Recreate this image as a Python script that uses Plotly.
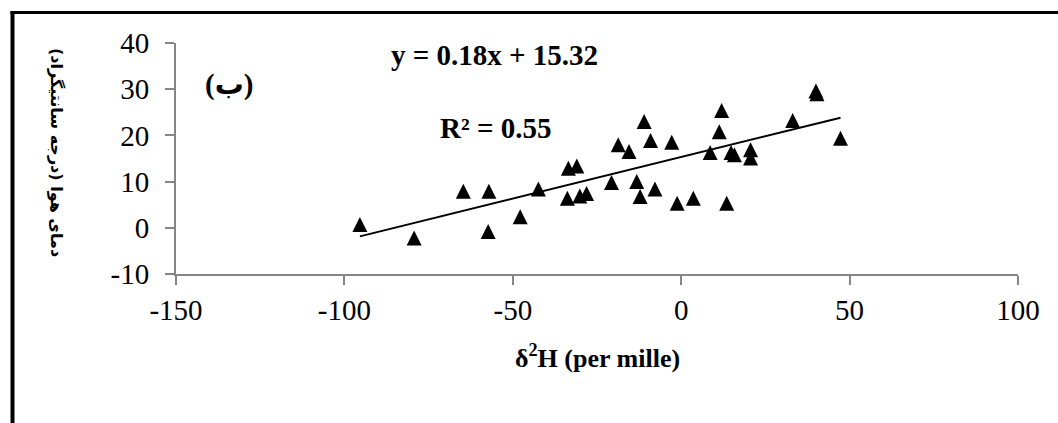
import plotly.graph_objects as go

# ---- data ----
d2h = [-95.4, -79.3, -64.7, -57.1, -57.3, -47.8, -42.4, -33.5, -31.0, -33.8,
       -30.1, -28.1, -20.7, -18.7, -15.5, -13.2, -12.2, -11.0, -9.1, -7.8,
       -2.8, -1.2, 3.6, 13.5, 8.6, 11.3, 12.0, 14.8, 15.8, 20.6,
       20.6, 33.1, 40.0, 40.3, 47.3]
temp = [0.7, -2.2, 7.9, 7.9, -0.8, 2.4, 8.4, 12.9, 13.4, 6.4,
        6.9, 7.4, 9.8, 18.0, 16.5, 10.0, 6.8, 23.0, 18.9, 8.4,
        18.5, 5.3, 6.4, 5.3, 16.3, 20.8, 25.4, 16.3, 15.8, 16.9,
        15.1, 23.2, 29.6, 29.0, 19.4]
fit_coef = [0.18, 15.32]          # slope, intercept (as printed on the chart)
x_ticks = [-150, -100, -50, 0, 50, 100]
x_tick_labels = ["-150", "-100", "-50", "0", "50", "100"]
y_ticks = [-10, 0, 10, 20, 30, 40]
y_tick_labels = ["-10", "0", "10", "20", "30", "40"]

eq_text = "y = 0.18x + 15.32"
r2_text = "R² = 0.55"
panel_text = "(ب)"
x_title = "δ<sup>2</sup>H (per mille)"
y_title = "دمای هوا (درجه سانتیگراد)\u200f"

# trend line over the data span
x_fit = [min(d2h), max(d2h)]
y_fit = [fit_coef[0] * v + fit_coef[1] for v in x_fit]

SERIF = "Liberation Serif, Times New Roman, serif"
AXC = "#868686"
MS = 15

fig = go.Figure()
fig.add_trace(go.Scatter(
    x=d2h, y=temp, mode="markers",
    marker=dict(symbol="arrow-down", angle=180, standoff=MS / 2, size=MS,
                color="black", line=dict(width=0)),
    showlegend=False, hoverinfo="skip"))
fig.add_trace(go.Scatter(
    x=x_fit, y=y_fit, mode="lines",
    line=dict(color="black", width=2),
    showlegend=False, hoverinfo="skip"))

axis_common = dict(showline=True, linecolor=AXC, linewidth=2,
                   ticks="outside", ticklen=9, tickwidth=2, tickcolor=AXC,
                   showgrid=False, zeroline=False,
                   tickfont=dict(family=SERIF, size=29, color="black"))

fig.update_layout(
    width=1058, height=423,
    margin=dict(l=176, r=40, t=43, b=149),
    paper_bgcolor="white", plot_bgcolor="white",
    xaxis=dict(range=[-150, 100], tickvals=x_ticks, ticktext=x_tick_labels,
               **axis_common),
    yaxis=dict(range=[-10, 40], tickvals=y_ticks, ticktext=y_tick_labels,
               ticklabelstandoff=10, **axis_common),
)

ann = []
ann.append(dict(text=eq_text, x=-55.3, y=37.4, xref="x", yref="y",
                showarrow=False, xanchor="center", yanchor="middle",
                font=dict(family=SERIF, size=29, color="black", weight="bold")))
ann.append(dict(text=r2_text, x=-55.0, y=21.6, xref="x", yref="y",
                showarrow=False, xanchor="center", yanchor="middle",
                font=dict(family=SERIF, size=29, color="black", weight="bold")))
ann.append(dict(text=panel_text, x=-134, y=31, xref="x", yref="y",
                showarrow=False, xanchor="center", yanchor="middle",
                font=dict(family="Liberation Serif, DejaVu Sans", size=29,
                          color="black", weight="bold")))
ann.append(dict(text=x_title, x=0.5, y=(274 - 356) / 231, xref="paper",
                yref="paper", showarrow=False, xanchor="center",
                yanchor="middle",
                font=dict(family=SERIF, size=26, color="black", weight="bold")))
ann.append(dict(text=y_title, x=(57 - 176) / 842, y=(274 - 152) / 231,
                xref="paper", yref="paper", showarrow=False, textangle=90,
                xanchor="center", yanchor="middle",
                font=dict(family="DejaVu Sans", size=16, color="black",
                          weight="bold")))
fig.update_layout(annotations=ann)

# outer frame (left and top edges visible in the reference)
px2x = lambda px: (px - 176) / 842
py2y = lambda py: (274 - py) / 231
fig.add_shape(type="line", xref="paper", yref="paper",
              x0=px2x(12.5), x1=px2x(12.5), y0=py2y(11), y1=py2y(440),
              line=dict(color="black", width=4))
fig.add_shape(type="line", xref="paper", yref="paper",
              x0=px2x(10.5), x1=px2x(1070), y0=py2y(12.5), y1=py2y(12.5),
              line=dict(color="black", width=3))

fig.write_html("out.html")
